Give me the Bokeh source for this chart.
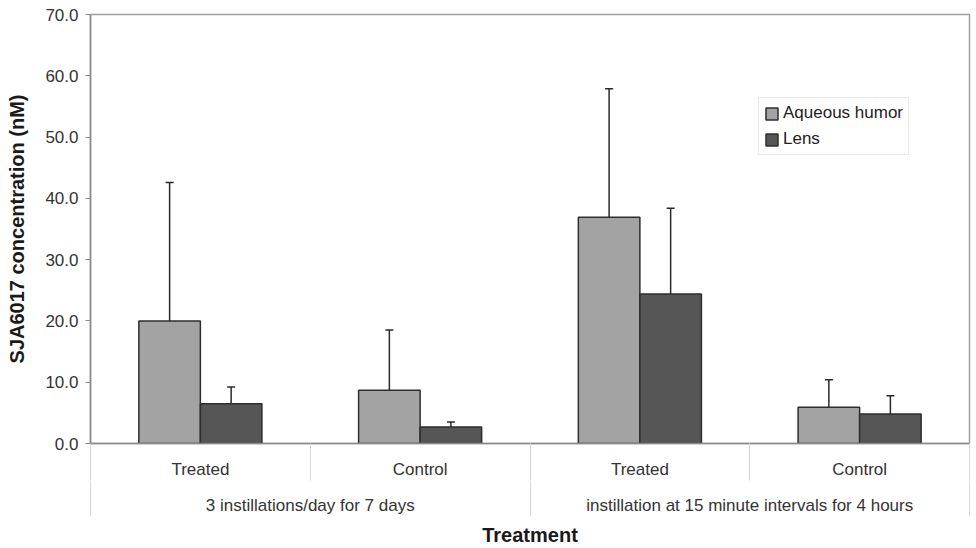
import numpy as np
from bokeh.plotting import figure
from bokeh.models import (ColumnDataSource, FixedTicker, LinearAxis, NumeralTickFormatter,
                          Whisker, TeeHead, Legend, LegendItem, Range1d)
from bokeh.transform import dodge
from bokeh.embed import file_html
from bokeh.resources import INLINE

# ---- data ----
categories = ["Treated", "Control", "Treated", "Control"]
groups = ["3 instillations/day for 7 days", "instillation at 15 minute intervals for 4 hours"]
series = ["Aqueous humor", "Lens"]
aqueous_mean = [20.0, 8.7, 36.9, 5.9]
aqueous_sd = [22.6, 9.8, 21.0, 4.5]
lens_mean = [6.5, 2.7, 24.4, 4.8]
lens_sd = [2.7, 0.8, 14.0, 3.0]
y_ticks = [0, 10, 20, 30, 40, 50, 60, 70]

FONT = "Liberation Sans"
n_cat = len(categories)
per_group = n_cat // len(groups)
xc = np.arange(n_cat) + 0.5
cat_bounds = list(np.arange(n_cat + 1).astype(float))
group_centers = list(np.arange(len(groups)) * per_group + per_group / 2)
group_bounds = list((np.arange(len(groups) + 1) * per_group).astype(float))

src = ColumnDataSource(dict(
    xc=xc,
    aq=aqueous_mean,
    aq_up=list(np.array(aqueous_mean) + np.array(aqueous_sd)),
    lens=lens_mean,
    lens_up=list(np.array(lens_mean) + np.array(lens_sd)),
))

p = figure(width=976, height=548, x_range=Range1d(0, n_cat), y_range=Range1d(0, 70),
           output_backend="svg", toolbar_location=None,
           x_axis_type=None, y_axis_type=None,
           min_border_left=90, min_border_right=7, min_border_top=14, min_border_bottom=105)
p.outline_line_color = "#a0a0a0"
p.outline_line_width = 1.5
p.background_fill_color = "white"
p.border_fill_color = "white"

# y axis
yax = LinearAxis(ticker=FixedTicker(ticks=y_ticks), formatter=NumeralTickFormatter(format="0.0"),
                 axis_label="SJA6017 concentration (nM)")
yax.axis_line_color = "#8a8a8a"
yax.axis_line_width = 1.5
yax.major_tick_line_color = "#8a8a8a"
yax.major_tick_out = 5
yax.major_tick_in = 0
yax.minor_tick_line_color = None
yax.major_label_standoff = 7
yax.major_label_text_font = FONT
yax.major_label_text_font_size = "17px"
yax.major_label_text_color = "#333333"
yax.axis_label_standoff = 14
yax.axis_label_text_font = FONT
yax.axis_label_text_font_size = "20px"
yax.axis_label_text_font_style = "bold"
yax.axis_label_text_color = "#1a1a1a"
p.add_layout(yax, "left")

# category axis (minor ticks act as the separators)
xax1 = LinearAxis(ticker=FixedTicker(ticks=list(xc), minor_ticks=cat_bounds),
                  major_label_overrides={float(x): c for x, c in zip(xc, categories)})
xax1.axis_line_color = "#8a8a8a"
xax1.axis_line_width = 1.5
xax1.major_tick_line_color = None
xax1.major_tick_out = 0
xax1.major_tick_in = 0
xax1.minor_tick_line_color = "#d8d8d8"
xax1.minor_tick_out = 37
xax1.minor_tick_in = 0
xax1.major_label_standoff = -21
xax1.major_label_text_font = FONT
xax1.major_label_text_font_size = "17px"
xax1.major_label_text_color = "#333333"
p.add_layout(xax1, "below")

# group axis
xax2 = LinearAxis(ticker=FixedTicker(ticks=group_centers, minor_ticks=group_bounds),
                  major_label_overrides={float(x): g for x, g in zip(group_centers, groups)},
                  axis_label="Treatment")
xax2.axis_line_color = None
xax2.major_tick_line_color = None
xax2.major_tick_out = 0
xax2.major_tick_in = 0
xax2.minor_tick_line_color = "#d8d8d8"
xax2.minor_tick_out = 35
xax2.minor_tick_in = 0
xax2.major_label_standoff = -21
xax2.major_label_text_font = FONT
xax2.major_label_text_font_size = "17px"
xax2.major_label_text_color = "#333333"
xax2.axis_label_standoff = 6
xax2.axis_label_text_font = FONT
xax2.axis_label_text_font_size = "20px"
xax2.axis_label_text_font_style = "bold"
xax2.axis_label_text_color = "#1a1a1a"
p.add_layout(xax2, "below")

bw = 0.28
off = bw / 2
r_aq = p.vbar(x=dodge("xc", -off, range=p.x_range), top="aq", width=bw, source=src,
              fill_color="#a3a3a3", line_color="#2e2e2e", line_width=1.5)
r_ln = p.vbar(x=dodge("xc", off, range=p.x_range), top="lens", width=bw, source=src,
              fill_color="#565656", line_color="#2e2e2e", line_width=1.5)

for fld, up, d in (("aq", "aq_up", -off), ("lens", "lens_up", off)):
    w = Whisker(source=src, base=dodge("xc", d, range=p.x_range), upper=up, lower=fld,
                upper_head=TeeHead(size=8, line_color="#2a2a2a", line_width=1.5),
                lower_head=None, line_color="#2a2a2a", line_width=1.5, level="overlay")
    p.add_layout(w)

legend = Legend(items=[LegendItem(label=series[0], renderers=[r_aq]),
                       LegendItem(label=series[1], renderers=[r_ln])],
                location=(668, 288))
legend.border_line_color = "#d4d4d4"
legend.border_line_width = 1
legend.background_fill_color = "white"
legend.padding = 5
legend.margin = 0
legend.spacing = 6
legend.glyph_width = 15
legend.glyph_height = 15
legend.label_height = 20
legend.label_standoff = 4
legend.label_text_font = FONT
legend.label_text_font_size = "17px"
legend.label_text_color = "#222222"
p.add_layout(legend)

open("out.html", "w").write(file_html(p, INLINE))
